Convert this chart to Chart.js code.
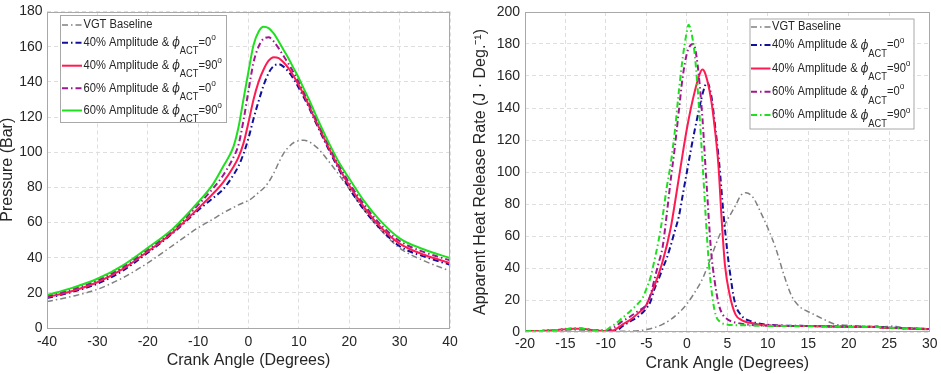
<!DOCTYPE html>
<html><head><meta charset="utf-8">
<script src="https://cdn.jsdelivr.net/npm/chart.js@4"></script>
<style>
html,body{margin:0;padding:0;background:#fff;}
#wrap{position:relative;width:941px;height:374px;overflow:hidden;}
#c1{position:absolute;left:0;top:0;width:470px;height:374px;}
#c2{position:absolute;left:470px;top:0;width:471px;height:374px;}
</style></head><body>
<div id="wrap"><canvas id="c1" width="470" height="374"></canvas><canvas id="c2" width="471" height="374"></canvas></div>
<script>
// ---------- Series labels ----------
const seriesLabels = ['VGT Baseline', '40% Amplitude & ϕ_{ACT}=0^{o}', '40% Amplitude & ϕ_{ACT}=90^{o}', '60% Amplitude & ϕ_{ACT}=0^{o}', '60% Amplitude & ϕ_{ACT}=90^{o}'];

// ---------- Left: cylinder pressure (Bar) vs crank angle ----------
const pAngle = [-40,-35,-30,-25,-20,-15,-10,-7,-5,-3,-2,-1,0,1,2,3,4,5,6,7,8,9,10,11,12,13,14,16,18,20,23,26,30,35,40];
const pVgt   = [15,18,22,28.5,37,47,57,62,65.5,68.5,70,71.3,72.5,74.5,77,79.5,83,88,94,99.5,103,105.5,106.5,106.8,106,104,101.5,94.5,87,79,67,56.5,45.5,38,32.5];
const pA40P0 = [17,20.5,25.2,32.5,42.8,54,67,74,79,87,92,99,108,119,129,138,145,149,150,148.5,145.5,141.5,136.5,131,125.5,119,113,101,90,79.5,67,57,46.5,40.5,36];
const pA40P90= [17.5,21,26,33.5,43.5,54.5,68,76.5,83,91.5,97,105,117,130,140,147,152,154,153.5,151,147.5,143,138,132.5,126.5,120,114,102,91,81,68.5,58,48,41.5,37];
const pA60P0 = [18,22,27,34.5,44.5,55.5,70,79.5,87,97,104,118,135,151,160,164.5,165.3,163,159,154.5,150,145,140,134,128,121.5,115.5,103.5,92.5,82.5,70,59.5,49.5,43,38.5];
const pA60P90= [18.7,22.8,28,35.5,45.6,56.5,71.5,82,92,103,114,130,146,161,168.5,171.3,170.5,167.5,163,158,153,147.5,142,136,130,123.5,117,105,94,85,72,61.5,51,44.5,39.8];
const pTicksX = [-40,-30,-20,-10,0,10,20,30,40];
const pTicksY = [0,20,40,60,80,100,120,140,160,180];

// ---------- Right: apparent heat release rate (J/deg) vs crank angle ----------
const hVgtAngle = [-20,-18,-16,-14,-12,-10,-8,-6,-5,-4,-3,-2,-1,0,1,2,3,4,5,6,6.7,7.3,8.2,9,10,11,12,12.9,13.9,15.3,16.6,18.2,20,22,24,25.5,27,30];
const hVgt      = [0.4,0.6,1.0,1.3,0.9,0.4,0.4,0.8,1.5,2.8,4.8,7.8,12,17.5,25,34,47,60,70,79,85.6,87,84,76,65,52,35.5,23,16,12,8.7,5,4.1,3.5,3.1,3.7,2.2,1.5];
const hA40P0Angle = [-20,-18,-16,-15,-14,-13,-12,-11,-10,-9,-8.5,-8,-7,-6,-5,-4.5,-4,-3.5,-3,-2.5,-2,-1.5,-1,-0.5,0,0.5,1,1.5,2,2.5,3,3.5,4,4.5,5,5.3,5.9,6.7,8,10,15,20,23,25,28,30];
const hA40P0      = [0.5,0.7,1.3,1.7,2,2,1.4,1,0.3,0.6,1.4,3.5,6.6,9.7,14.8,19,27,33,39.6,46,54,63,72,86,100,114,127,139,150,156,148,128,105,75,50,38,19,10.5,6.6,4.5,3.8,3.3,3.2,2.7,2.2,1.8];
const hA40P90Angle = [-20,-18,-16,-15,-14,-13,-12,-11,-10,-9,-8,-7,-6,-5,-4.5,-4,-3,-2,-1.5,-1,-0.5,0,0.5,1,1.5,1.9,2.3,3,3.5,3.9,4.3,4.7,5.3,6,6.7,8.4,10,15,20,23,23.5,24,25,28,30];
const hA40P90      = [0.5,0.7,1.3,1.7,2,2,1.4,1,0.5,1.2,4.5,7.6,11.8,17,23,29,44,65,80,96,112,127,140,151,160,164,161,145,125,104,70,42,23,11,7.6,5.2,4,3.7,3.3,3.2,3.6,2.6,2.5,2.2,1.8];
const hA60P0Angle = [-20,-18,-16,-15,-14,-13,-12,-11,-10,-9,-8,-7,-6,-5,-4.5,-4,-3.5,-3,-2.5,-2,-1.5,-1,-0.5,0,0.5,0.8,1.3,1.9,2.4,3,3.4,3.9,4.3,5,6.3,10,15,20,23,25,28,30];
const hA60P0      = [0.5,0.7,1.3,1.7,2,2,1.4,1,0.8,2.9,6.6,9.7,13.2,17,23,33,43,53,73,95,115,138,160,174,179.5,180,168,135,95,50,33,18,12,8,5.6,4,3.7,3.3,3.2,2.7,2.2,1.8];
const hA60P90Angle = [-20,-18,-16,-15,-14,-13,-12,-11,-10,-9.5,-9,-8,-7,-6,-5.5,-5,-4.5,-4,-3.5,-3,-2.5,-2,-1.5,-1,-0.5,0,0.2,0.6,1,1.5,2,2.5,2.8,3.2,3.6,4.2,5,7,10,15,20,23,25,28,30];
const hA60P90      = [0.5,0.7,1.3,1.7,2,2,1.4,1,1.2,2.9,4.5,8.7,13,18,21,27,34,45,57,72,90,105,125,150,172,188,192,186,172,140,100,58,38,20,10,6,4.6,4.2,3.8,3.6,3.2,3.2,2.6,2.2,1.8];
const hTicksX = [-20,-15,-10,-5,0,5,10,15,20,25,30];
const hTicksY = [0,20,40,60,80,100,120,140,160,180,200];

// ---------- styling ----------
const FONT = '"Liberation Sans", Arial, sans-serif';
const TXT = '#262626';
const GRID = '#dedede';
const FRAME = '#a8a8a8';
const DASHDOT = [6,3,1.5,3];
const styles = [
  {color:'#808080', width:1.5, dash:DASHDOT},
  {color:'#10109a', width:2, dash:DASHDOT},
  {color:'#ff1a52', width:2, dash:[]},
  {color:'#a0188f', width:2, dash:DASHDOT},
  {color:'#1ee01e', width:2, dash:[]}
];

function pts(xs, ys){ return xs.map((x,i)=>({x:x, y:ys[i]})); }

function makeDatasets(seriesList, greenDash){
  return seriesList.map((d,i)=>{
    const s = styles[i];
    const dash = (i===4 && greenDash) ? DASHDOT : s.dash;
    return {label: seriesLabels[i], data: d, borderColor: s.color, backgroundColor: s.color,
      borderWidth: s.width, borderDash: dash, pointRadius: 0, fill: false,
      cubicInterpolationMode: 'monotone', order: seriesList.length - i};
  });
}

function drawRich(ctx, label, x, y){
  const parts = label.split(/(_\{[^}]*\}|\^\{[^}]*\}|ϕ)/).filter(s=>s);
  ctx.save(); ctx.translate(x, y); ctx.scale(0.93, 1);
  ctx.fillStyle = TXT; ctx.textBaseline = 'middle'; ctx.textAlign = 'left';
  let cx = 0;
  for (const p of parts){
    let t = p, font = '12px ' + FONT, dy = 0;
    if (p.startsWith('_{')) { t = p.slice(2,-1); font = '10px ' + FONT; dy = 9; }
    else if (p.startsWith('^{')) { t = p.slice(2,-1); font = '9px ' + FONT; dy = -5; }
    else if (p === 'ϕ') { font = 'italic 12px "DejaVu Serif", serif'; dy = 0.5; }
    ctx.font = font; ctx.fillText(t, cx, dy); cx += ctx.measureText(t).width;
  }
  ctx.restore();
}

const framePlugin = {
  id: 'frameBox',
  afterDatasetsDraw(chart){
    const {left, top, right, bottom} = chart.chartArea;
    const ctx = chart.ctx;
    ctx.save(); ctx.setLineDash([]); ctx.strokeStyle = FRAME; ctx.lineWidth = 1;
    ctx.strokeRect(Math.round(left)+0.5, Math.round(top)+0.5, Math.round(right-left)-1, Math.round(bottom-top)-1);
    ctx.restore();
  }
};

const legendPlugin = {
  id: 'boxLegend',
  afterDraw(chart, args, o){
    const ctx = chart.ctx;
    ctx.save();
    ctx.setLineDash([]);
    ctx.fillStyle = '#fff'; ctx.fillRect(o.x, o.y, o.w, o.h);
    ctx.strokeStyle = FRAME; ctx.lineWidth = 1; ctx.strokeRect(o.x+0.5, o.y+0.5, o.w, o.h);
    chart.data.datasets.forEach((ds, i)=>{
      const y = o.y + o.rows[i];
      ctx.save();
      ctx.strokeStyle = ds.borderColor; ctx.lineWidth = ds.borderWidth; ctx.setLineDash(ds.borderDash || []);
      ctx.beginPath(); ctx.moveTo(o.x + o.s1, y); ctx.lineTo(o.x + o.s2, y); ctx.stroke();
      ctx.restore();
      drawRich(ctx, ds.label, o.x + o.tx, y);
    });
    ctx.restore();
  }
};

function axisX(min, max, step, ticks, pad, height, titlePad){
  return {type:'linear', min:min, max:max,
    afterBuildTicks(s){ s.ticks = ticks.map(v=>({value:v})); },
    ticks:{stepSize:step, autoSkip:false, maxRotation:0, color:TXT, padding:pad, font:{family:FONT, size:14}},
    grid:{color:GRID, drawTicks:false, lineWidth:1},
    border:{display:false, dash:[4,3]},
    title:{display:true, text:'Crank Angle (Degrees)', color:TXT, font:{family:FONT, size:16, lineHeight:1.2}, padding:{top:0, bottom:titlePad}},
    afterFit(s){ s.height = height; }
  };
}
function axisY(max, step, ticks, pad, width, title, titlePad){
  return {type:'linear', min:0, max:max,
    afterBuildTicks(s){ s.ticks = ticks.map(v=>({value:v})); },
    ticks:{stepSize:step, autoSkip:false, color:TXT, padding:pad, font:{family:FONT, size:14, lineHeight:1}},
    grid:{color:GRID, drawTicks:false, lineWidth:1},
    border:{display:false, dash:[4,3]},
    title:{display:true, text:title, color:TXT, font:{family:FONT, size:16, lineHeight:1}, padding:{top:titlePad, bottom:0}},
    afterFit(s){ s.width = width; }
  };
}

Chart.defaults.font.family = FONT;

new Chart(document.getElementById('c1'), {
  type:'line',
  data:{datasets: makeDatasets([pts(pAngle,pVgt), pts(pAngle,pA40P0), pts(pAngle,pA40P90), pts(pAngle,pA60P0), pts(pAngle,pA60P90)], false)},
  options:{responsive:false, animation:false, devicePixelRatio:1,
    layout:{padding:{left:0, right:20, top:7, bottom:0}},
    plugins:{legend:{display:false}, tooltip:{enabled:false},
      boxLegend:{x:60, y:15, w:166, h:107, s1:2, s2:22, tx:23.5, rows:[10,27.7,50.7,73.3,95.5]}},
    scales:{x: axisX(-40, 40, 10, pTicksX, 5.5, 46, 3.4), y: axisY(180, 20, pTicksY, 4.5, 47, 'Pressure (Bar)', 0)}
  },
  plugins:[framePlugin, legendPlugin]
});

new Chart(document.getElementById('c2'), {
  type:'line',
  data:{datasets: makeDatasets([pts(hVgtAngle,hVgt), pts(hA40P0Angle,hA40P0), pts(hA40P90Angle,hA40P90), pts(hA60P0Angle,hA60P0), pts(hA60P90Angle,hA60P90)], true)},
  options:{responsive:false, animation:false, devicePixelRatio:1,
    layout:{padding:{left:0, right:9, top:8, bottom:0}},
    plugins:{legend:{display:false}, tooltip:{enabled:false},
      boxLegend:{x:279.5, y:18.5, w:164, h:110, s1:1.5, s2:21, tx:22.5, rows:[8.4,26.6,50,73.3,96.6]}},
    scales:{x: axisX(-20, 30, 5, hTicksX, 3.5, 42, 0.5), y: axisY(200, 20, hTicksY, 5, 55, 'Apparent Heat Release Rate (J · Deg.⁻¹)', 3)}
  },
  plugins:[framePlugin, legendPlugin]
});
</script>
</body></html>
